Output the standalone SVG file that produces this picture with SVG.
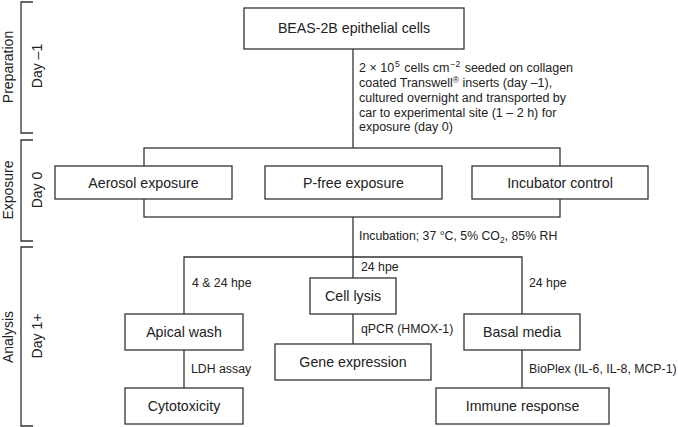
<svg xmlns="http://www.w3.org/2000/svg" width="678" height="427" viewBox="0 0 678 427">
<style>
text{font-family:"Liberation Sans",Arial,sans-serif;fill:#222}
.box{fill:#fff;stroke:#333;stroke-width:1.3}
.ln{fill:none;stroke:#333;stroke-width:1.3}
.bl{font-size:14.2px;text-anchor:middle}
.sm{font-size:12.3px}
.par{font-size:12.5px}
.side{font-size:14px;text-anchor:middle}
.sup{font-size:8.5px}
</style>
<rect width="678" height="427" fill="#fff"/>
<g id="brackets">
<path class="ln" d="M33,2 H21 V133 H33"/>
<path class="ln" d="M33,140 H21 V241 H33"/>
<path class="ln" d="M33,247 H21 V426 H33"/>
<text class="side" transform="translate(12.5,67) rotate(-90)">Preparation</text>
<text class="side" transform="translate(42,66) rotate(-90)">Day –1</text>
<text class="side" transform="translate(12.5,190) rotate(-90)">Exposure</text>
<text class="side" transform="translate(42,190) rotate(-90)">Day 0</text>
<text class="side" transform="translate(12.5,337) rotate(-90)">Analysis</text>
<text class="side" transform="translate(42,336) rotate(-90)">Day 1+</text>
</g>
<g id="connectors">
<path class="ln" d="M353,49 V148"/>
<rect class="ln" x="144" y="148" width="416" height="69"/>
<path class="ln" d="M353,217 V278"/>
<path class="ln" d="M184,314 V257 H522 V314"/>
<path class="ln" d="M184,350 V388"/>
<path class="ln" d="M353,314 V344"/>
<path class="ln" d="M522,350 V388"/>
</g>
<g id="labels">
<text class="par" x="359"><tspan x="359" y="72">2 × 10<tspan class="sup" dx="1" dy="-5">5</tspan><tspan dx="1" dy="5"> cells cm</tspan><tspan class="sup" dx="1" dy="-5">−2</tspan><tspan dx="1" dy="5"> seeded on collagen</tspan></tspan><tspan x="359" y="87">coated Transwell<tspan class="sup" dy="-4">®</tspan><tspan dy="4"> inserts (day –1),</tspan></tspan><tspan x="359" y="102">cultured overnight and transported by</tspan><tspan x="359" y="117">car to experimental site (1 – 2 h) for</tspan><tspan x="359" y="131">exposure (day 0)</tspan></text>
<text class="sm" x="359" y="240">Incubation; 37 °C, 5% CO<tspan class="sup" dy="3">2</tspan><tspan dy="-3">, 85% RH</tspan></text>
<text class="sm" x="192" y="287">4 &amp; 24 hpe</text>
<text class="sm" x="361" y="271">24 hpe</text>
<text class="sm" x="529" y="287">24 hpe</text>
<text class="sm" x="191" y="373">LDH assay</text>
<text class="sm" x="361" y="333">qPCR (HMOX-1)</text>
<text class="sm" x="529" y="373">BioPlex (IL-6, IL-8, MCP-1)</text>
</g>
<g id="beas"><rect class="box" x="244" y="8" width="220" height="41"/><text class="bl" x="354" y="33">BEAS-2B epithelial cells</text></g>
<g id="aerosol"><rect class="box" x="55" y="166" width="177" height="33"/><text class="bl" x="143.5" y="187.5">Aerosol exposure</text></g>
<g id="pfree"><rect class="box" x="265" y="166" width="177" height="33"/><text class="bl" x="353.5" y="187.5">P-free exposure</text></g>
<g id="incubator"><rect class="box" x="472" y="166" width="176" height="33"/><text class="bl" x="560" y="187.5">Incubator control</text></g>
<g id="celllysis"><rect class="box" x="310" y="278" width="86" height="36"/><text class="bl" x="353" y="301">Cell lysis</text></g>
<g id="apical"><rect class="box" x="125" y="314" width="118" height="36"/><text class="bl" x="184" y="337">Apical wash</text></g>
<g id="basal"><rect class="box" x="464" y="314" width="116" height="36"/><text class="bl" x="522" y="337">Basal media</text></g>
<g id="gene"><rect class="box" x="275" y="344" width="156" height="36"/><text class="bl" x="353" y="367">Gene expression</text></g>
<g id="cyto"><rect class="box" x="125" y="388" width="118" height="36"/><text class="bl" x="184" y="411">Cytotoxicity</text></g>
<g id="immune"><rect class="box" x="436" y="388" width="173" height="36"/><text class="bl" x="522.5" y="411">Immune response</text></g>
</svg>
